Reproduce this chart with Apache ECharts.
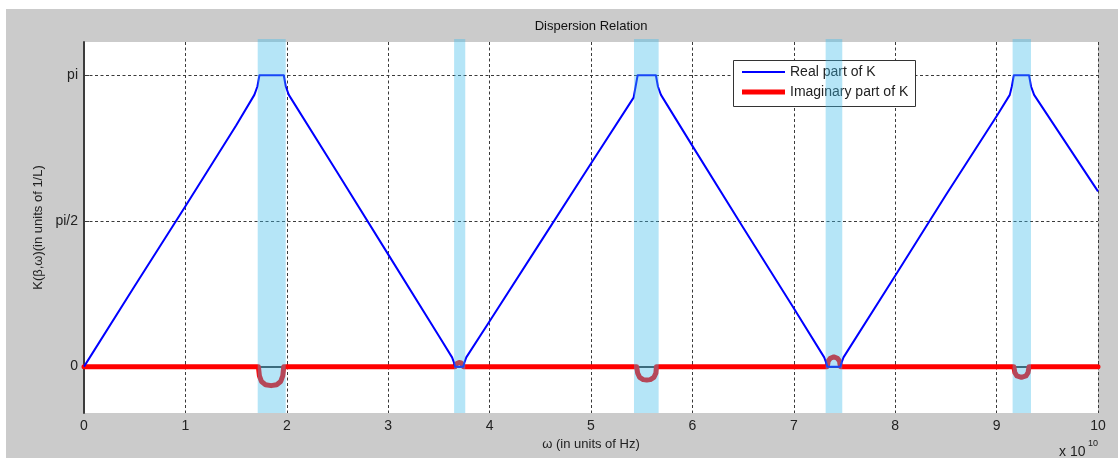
<!DOCTYPE html>
<html>
<head>
<meta charset="utf-8">
<script src="https://cdn.jsdelivr.net/npm/echarts@6/dist/echarts.min.js"></script>
<style>
  html, body { margin: 0; padding: 0; background: #ffffff; }
  #chart { position: absolute; left: 6px; top: 9px; width: 1112px; height: 449px; background: #cbcbcb; }
</style>
</head>
<body>
<div id="chart"></div>
<script>
// Frequency samples (units of 1e10 Hz) and the real part of K
const realOmega = [0, 0.5, 1.0, 1.5, 1.68, 1.71, 1.73,
  1.97, 1.99, 2.02, 2.5, 3.0, 3.5, 3.63, 3.65, 3.66,
  3.74, 3.75, 3.77, 4.0, 4.5, 5.0, 5.42, 5.44, 5.46,
  5.64, 5.66, 5.69, 6.0, 6.5, 7.0, 7.30, 7.32, 7.33,
  7.46, 7.47, 7.49, 8.0, 8.5, 9.0, 9.13, 9.15, 9.17,
  9.32, 9.34, 9.37, 10];
const realK = [0, 0.87, 1.73, 2.60, 2.93, 3.02, 3.1416,
  3.1416, 3.02, 2.93, 2.09, 1.21, 0.33, 0.10, 0.04, 0,
  0, 0.04, 0.10, 0.49, 1.34, 2.19, 2.90, 3.02, 3.1416,
  3.1416, 3.02, 2.93, 2.38, 1.50, 0.63, 0.10, 0.04, 0,
  0, 0.04, 0.10, 0.98, 1.85, 2.70, 2.93, 3.02, 3.1416,
  3.1416, 3.02, 2.93, 1.89];

// Imaginary part of K (non-zero only inside the stop bands)
const imagOmega = [0, 1.72, 1.73, 1.75, 1.79, 1.845, 1.90, 1.94, 1.96, 1.97,
  3.66, 3.665, 3.68, 3.70, 3.72, 3.735, 3.74,
  5.45, 5.46, 5.48, 5.515, 5.55, 5.585, 5.62, 5.64, 5.645,
  7.33, 7.34, 7.36, 7.395, 7.43, 7.45, 7.46,
  9.17, 9.18, 9.20, 9.245, 9.29, 9.31, 9.32, 10];
const imagK = [0, 0, -0.10, -0.16, -0.195, -0.205, -0.195, -0.16, -0.10, 0,
  0, 0.025, 0.04, 0.045, 0.04, 0.025, 0,
  0, -0.07, -0.115, -0.14, -0.145, -0.14, -0.115, -0.07, 0,
  0, 0.06, 0.09, 0.105, 0.09, 0.06, 0,
  0, -0.065, -0.10, -0.115, -0.10, -0.065, 0, 0];

// Stop bands (shaded)
const bandStart = [1.713, 3.65, 5.424, 7.314, 9.158];
const bandEnd   = [1.989, 3.76, 5.667, 7.478, 9.339];

// Axis ticks
const yTickValues = [0, 3.1416 / 2, 3.1416];
const yTickLabels = ['0', 'pi/2', 'pi'];
const Y_MIN = -0.5, Y_MAX = 3.5;

const zip = (xs, ys) => xs.map((x, i) => [x, ys[i]]);
const bands = bandStart.map((s, i) => [s, bandEnd[i]]);

const FONT = '"Liberation Sans", Arial, sans-serif';
const gridDash = { type: [3, 2.5], color: '#3a3a3a', width: 1 };

const chart = echarts.init(document.getElementById('chart'), null, { renderer: 'canvas' });

chart.setOption({
  animation: false,
  backgroundColor: 'transparent',
  textStyle: { fontFamily: FONT },
  grid: { left: 78, right: 20, top: 33, bottom: 45, show: true, backgroundColor: '#ffffff', borderWidth: 0 },
  xAxis: {
    type: 'value', min: 0, max: 10, interval: 1,
    name: 'ω (in units of Hz)', nameLocation: 'middle', nameGap: 22,
    nameTextStyle: { fontSize: 13, color: '#222', fontFamily: FONT },
    axisLine: { lineStyle: { color: '#3c3c3c', width: 2 } },
    axisTick: { inside: true, length: 5, lineStyle: { color: '#3c3c3c', width: 1 } },
    axisLabel: { margin: 6, fontSize: 14, color: '#222', fontFamily: FONT },
    splitLine: { show: true, lineStyle: gridDash }
  },
  yAxis: {
    type: 'value', min: Y_MIN, max: Y_MAX,
    name: 'K(β,ω)(in units of 1/L)', nameLocation: 'middle', nameGap: 35, nameRotate: 90,
    nameTextStyle: { fontSize: 13, color: '#222', fontFamily: FONT },
    axisLine: { show: true, lineStyle: { color: '#3c3c3c', width: 2 } },
    axisTick: { show: true, inside: true, length: 5, customValues: yTickValues, lineStyle: { color: '#3c3c3c', width: 1 } },
    axisLabel: {
      margin: 6, fontSize: 14, color: '#222', fontFamily: FONT,
      customValues: yTickValues,
      formatter: (v) => {
        const i = yTickValues.findIndex(t => Math.abs(t - v) < 1e-6);
        return i >= 0 ? yTickLabels[i] : '';
      }
    },
    splitLine: { show: false }
  },
  graphic: [
    { type: 'text', x: 585, y: 17, z: 10,
      style: { text: 'Dispersion Relation', font: '13px ' + FONT, fill: '#111', align: 'center', verticalAlign: 'middle' } },
    { type: 'text', x: 1053, y: 443, z: 10,
      style: { text: 'x 10', font: '14px ' + FONT, fill: '#222', align: 'left', verticalAlign: 'middle' } },
    { type: 'text', x: 1082, y: 435, z: 10,
      style: { text: '10', font: '9px ' + FONT, fill: '#222', align: 'left', verticalAlign: 'middle' } },
    // legend box
    { type: 'rect', z: 3, shape: { x: 727.5, y: 51.5, width: 182, height: 46 },
      style: { fill: '#ffffff', stroke: '#333333', lineWidth: 1 } },
    { type: 'line', z: 3, shape: { x1: 736, y1: 63, x2: 779, y2: 63 }, style: { stroke: '#0000ff', lineWidth: 2 } },
    { type: 'line', z: 3, shape: { x1: 736, y1: 83, x2: 779, y2: 83 }, style: { stroke: '#ff0000', lineWidth: 5 } },
    { type: 'text', z: 3, x: 784, y: 63,
      style: { text: 'Real part of K', font: '14px ' + FONT, fill: '#222', align: 'left', verticalAlign: 'middle' } },
    { type: 'text', z: 3, x: 784, y: 83,
      style: { text: 'Imaginary part of K', font: '14px ' + FONT, fill: '#222', align: 'left', verticalAlign: 'middle' } }
  ],
  series: [
    {
      // horizontal grid lines at the labelled K values
      type: 'line', name: 'hgrid', data: [], z: 1, silent: true,
      markLine: {
        z: 1, silent: true, symbol: 'none', animation: false,
        label: { show: false },
        lineStyle: gridDash,
        data: yTickValues.map(v => ({ yAxis: v }))
      }
    },
    {
      name: 'Imaginary part of K', type: 'line', z: 2,
      data: zip(imagOmega, imagK), showSymbol: false, symbol: 'none',
      lineStyle: { color: '#ff0000', width: 5, join: 'round', cap: 'round' }
    },
    {
      name: 'Real part of K', type: 'line', z: 2,
      data: zip(realOmega, realK), showSymbol: false, symbol: 'none',
      lineStyle: { color: '#0000ff', width: 2, join: 'round' }
    },
    {
      name: 'bands', type: 'custom', z: 5, silent: true, clip: false,
      data: bands, encode: { x: [0, 1] },
      renderItem: (params, api) => {
        const p1 = api.coord([api.value(0), Y_MAX]);
        const p2 = api.coord([api.value(1), Y_MIN]);
        return {
          type: 'rect',
          shape: { x: p1[0], y: p1[1] - 3, width: p2[0] - p1[0], height: p2[1] - p1[1] + 3 },
          style: { fill: 'rgba(60,187,233,0.38)' }
        };
      }
    }
  ]
});
</script>
</body>
</html>
